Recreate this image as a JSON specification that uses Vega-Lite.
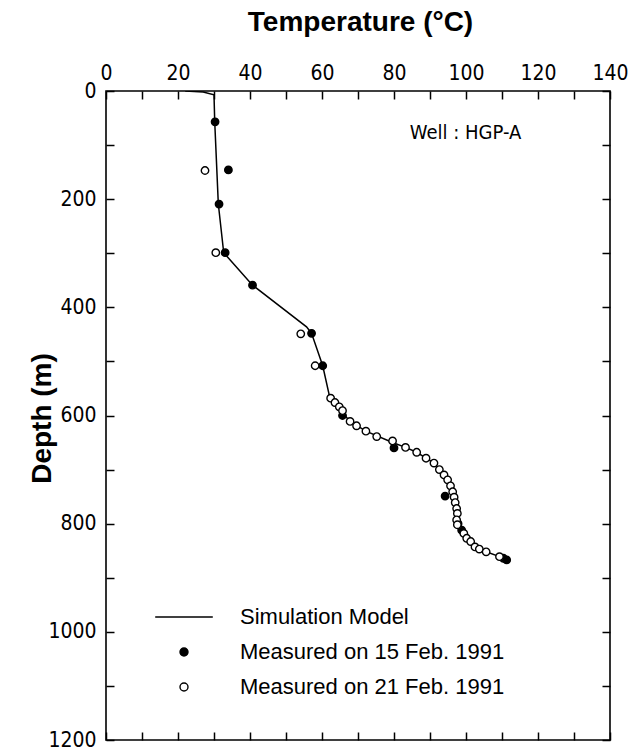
{
  "$schema": "https://vega.github.io/schema/vega-lite/v6.json",
  "autosize": {"type": "none"},
  "padding": {"left": 106, "top": 91, "right": 29, "bottom": 15},
  "width": 504,
  "height": 649,
  "background": "white",
  "config": {
    "view": {"stroke": "black", "strokeWidth": 1.6},
    "axis": {
      "labelFont": "Liberation Sans Narrow, DejaVu Sans Condensed, Liberation Sans",
      "labelFontSize": 21,
      "labelColor": "black",
      "titleFont": "Liberation Sans",
      "titleFontWeight": "bold",
      "titleFontSize": 28,
      "titleColor": "black",
      "domain": false,
      "grid": false,
      "tickColor": "black",
      "tickWidth": 1.5,
      "tickSize": -8,
      "format": "d"
    }
  },
  "datasets": {
    "sim": [
      {"T": 22, "depth": 0}, {"T": 27, "depth": 2}, {"T": 30, "depth": 7},
      {"T": 30.2, "depth": 57}, {"T": 31.2, "depth": 209}, {"T": 32.7, "depth": 299},
      {"T": 40.7, "depth": 359}, {"T": 55.7, "depth": 436}, {"T": 57.1, "depth": 448},
      {"T": 60.2, "depth": 508}, {"T": 62.2, "depth": 568}, {"T": 63.6, "depth": 576},
      {"T": 65.7, "depth": 595}, {"T": 67.8, "depth": 611}, {"T": 72.2, "depth": 629},
      {"T": 79.6, "depth": 650}, {"T": 83.2, "depth": 659}, {"T": 86.3, "depth": 668},
      {"T": 88.9, "depth": 679}, {"T": 91.1, "depth": 688}, {"T": 93.9, "depth": 710},
      {"T": 95.7, "depth": 730}, {"T": 96.7, "depth": 751}, {"T": 97.4, "depth": 772},
      {"T": 97.6, "depth": 790}, {"T": 98.0, "depth": 805}, {"T": 99.4, "depth": 818},
      {"T": 101.3, "depth": 833}, {"T": 103.7, "depth": 847}, {"T": 105.6, "depth": 852},
      {"T": 109.3, "depth": 861}, {"T": 111.3, "depth": 867}
    ],
    "meas": [
      {"series": "Measured on 15 Feb. 1991", "T": 30.3, "depth": 57},
      {"series": "Measured on 15 Feb. 1991", "T": 34.0, "depth": 146},
      {"series": "Measured on 15 Feb. 1991", "T": 31.4, "depth": 209},
      {"series": "Measured on 15 Feb. 1991", "T": 33.1, "depth": 299},
      {"series": "Measured on 15 Feb. 1991", "T": 40.7, "depth": 359},
      {"series": "Measured on 15 Feb. 1991", "T": 57.1, "depth": 448},
      {"series": "Measured on 15 Feb. 1991", "T": 60.2, "depth": 508},
      {"series": "Measured on 15 Feb. 1991", "T": 65.7, "depth": 600},
      {"series": "Measured on 15 Feb. 1991", "T": 80.0, "depth": 660},
      {"series": "Measured on 15 Feb. 1991", "T": 94.2, "depth": 749},
      {"series": "Measured on 15 Feb. 1991", "T": 97.8, "depth": 800},
      {"series": "Measured on 15 Feb. 1991", "T": 98.8, "depth": 812},
      {"series": "Measured on 15 Feb. 1991", "T": 110.4, "depth": 864},
      {"series": "Measured on 15 Feb. 1991", "T": 111.3, "depth": 867},
      {"series": "Measured on 21 Feb. 1991", "T": 27.5, "depth": 147},
      {"series": "Measured on 21 Feb. 1991", "T": 30.5, "depth": 299},
      {"series": "Measured on 21 Feb. 1991", "T": 54.1, "depth": 449},
      {"series": "Measured on 21 Feb. 1991", "T": 58.1, "depth": 508},
      {"series": "Measured on 21 Feb. 1991", "T": 62.4, "depth": 568},
      {"series": "Measured on 21 Feb. 1991", "T": 63.6, "depth": 576},
      {"series": "Measured on 21 Feb. 1991", "T": 64.8, "depth": 584},
      {"series": "Measured on 21 Feb. 1991", "T": 65.7, "depth": 591},
      {"series": "Measured on 21 Feb. 1991", "T": 67.8, "depth": 611},
      {"series": "Measured on 21 Feb. 1991", "T": 69.6, "depth": 619},
      {"series": "Measured on 21 Feb. 1991", "T": 72.2, "depth": 629},
      {"series": "Measured on 21 Feb. 1991", "T": 75.2, "depth": 639},
      {"series": "Measured on 21 Feb. 1991", "T": 79.6, "depth": 647},
      {"series": "Measured on 21 Feb. 1991", "T": 83.2, "depth": 659},
      {"series": "Measured on 21 Feb. 1991", "T": 86.3, "depth": 668},
      {"series": "Measured on 21 Feb. 1991", "T": 88.9, "depth": 679},
      {"series": "Measured on 21 Feb. 1991", "T": 91.1, "depth": 688},
      {"series": "Measured on 21 Feb. 1991", "T": 92.6, "depth": 700},
      {"series": "Measured on 21 Feb. 1991", "T": 93.9, "depth": 710},
      {"series": "Measured on 21 Feb. 1991", "T": 94.9, "depth": 719},
      {"series": "Measured on 21 Feb. 1991", "T": 95.7, "depth": 730},
      {"series": "Measured on 21 Feb. 1991", "T": 96.3, "depth": 741},
      {"series": "Measured on 21 Feb. 1991", "T": 96.7, "depth": 751},
      {"series": "Measured on 21 Feb. 1991", "T": 97.0, "depth": 761},
      {"series": "Measured on 21 Feb. 1991", "T": 97.4, "depth": 772},
      {"series": "Measured on 21 Feb. 1991", "T": 97.6, "depth": 781},
      {"series": "Measured on 21 Feb. 1991", "T": 97.4, "depth": 793},
      {"series": "Measured on 21 Feb. 1991", "T": 97.6, "depth": 802},
      {"series": "Measured on 21 Feb. 1991", "T": 99.4, "depth": 818},
      {"series": "Measured on 21 Feb. 1991", "T": 100.2, "depth": 827},
      {"series": "Measured on 21 Feb. 1991", "T": 101.3, "depth": 833},
      {"series": "Measured on 21 Feb. 1991", "T": 102.5, "depth": 843},
      {"series": "Measured on 21 Feb. 1991", "T": 103.7, "depth": 847},
      {"series": "Measured on 21 Feb. 1991", "T": 105.6, "depth": 852},
      {"series": "Measured on 21 Feb. 1991", "T": 109.3, "depth": 861}
    ]
  },
  "layer": [
    {
      "data": {"name": "sim"},
      "mark": {"type": "line", "color": "black", "strokeWidth": 1.5, "clip": true},
      "encoding": {
        "x": {"field": "T", "type": "quantitative",
          "scale": {"domain": [0, 140], "nice": false, "zero": false},
          "axis": {"orient": "top", "title": "Temperature (°C)",
            "values": [0, 10, 20, 30, 40, 50, 60, 70, 80, 90, 100, 110, 120, 130, 140],
            "labelExpr": "datum.value % 20 === 0 ? datum.label : ''",
            "labelPadding": 16, "labelFlush": false, "labelOverlap": false,
            "titleX": 254, "titleY": -69, "titleBaseline": "middle", "titleAlign": "center"}},
        "y": {"field": "depth", "type": "quantitative",
          "scale": {"domain": [0, 1200], "nice": false, "zero": false, "reverse": true},
          "axis": {"orient": "left", "title": "Depth (m)",
            "values": [0, 100, 200, 300, 400, 500, 600, 700, 800, 900, 1000, 1100, 1200],
            "labelExpr": "datum.value % 200 === 0 ? datum.label : ''",
            "labelPadding": 18, "labelFlush": false, "labelOverlap": false,
            "titleX": -64, "titleY": 327, "titleBaseline": "middle", "titleAlign": "center", "titleAngle": -90}},
        "order": {"field": "depth", "type": "quantitative"}
      }
    },
    {
      "data": {"name": "meas"},
      "mark": {"type": "point", "filled": true, "size": 55, "stroke": "black", "strokeWidth": 1.4, "opacity": 1},
      "encoding": {
        "x": {"field": "T", "type": "quantitative",
          "axis": {"orient": "bottom", "title": null, "labels": false,
            "values": [0, 10, 20, 30, 40, 50, 60, 70, 80, 90, 100, 110, 120, 130, 140]}},
        "y": {"field": "depth", "type": "quantitative",
          "axis": {"orient": "right", "title": null, "labels": false,
            "values": [0, 100, 200, 300, 400, 500, 600, 700, 800, 900, 1000, 1100, 1200]}},
        "fill": {"field": "series", "type": "nominal",
          "scale": {"domain": ["Simulation Model", "Measured on 15 Feb. 1991", "Measured on 21 Feb. 1991"],
            "range": ["black", "black", "white"]},
          "legend": {"orient": "none", "legendX": 67, "legendY": 515, "title": null,
            "symbolSize": 64, "symbolStrokeColor": "black", "symbolStrokeWidth": 1.4,
            "labelFont": "Liberation Sans", "labelFontSize": 22, "labelColor": "black",
            "labelOffset": 45, "rowPadding": 13, "padding": 0, "labelLimit": 400}},
        "shape": {"field": "series", "type": "nominal",
          "scale": {"domain": ["Simulation Model", "Measured on 15 Feb. 1991", "Measured on 21 Feb. 1991"],
            "range": ["M-7.2,0L7.2,0", "circle", "circle"]}}
      }
    },
    {
      "data": {"values": [{"label": "Well : HGP-A"}]},
      "mark": {"type": "text", "align": "left", "baseline": "middle", "font": "Liberation Sans Narrow, DejaVu Sans Condensed, Liberation Sans", "fontSize": 20, "color": "black"},
      "encoding": {
        "x": {"datum": 84.4, "type": "quantitative", "axis": null},
        "y": {"datum": 78, "type": "quantitative", "axis": null},
        "text": {"field": "label", "type": "nominal"}
      }
    }
  ],
  "resolve": {"axis": {"x": "independent", "y": "independent"}}
}
